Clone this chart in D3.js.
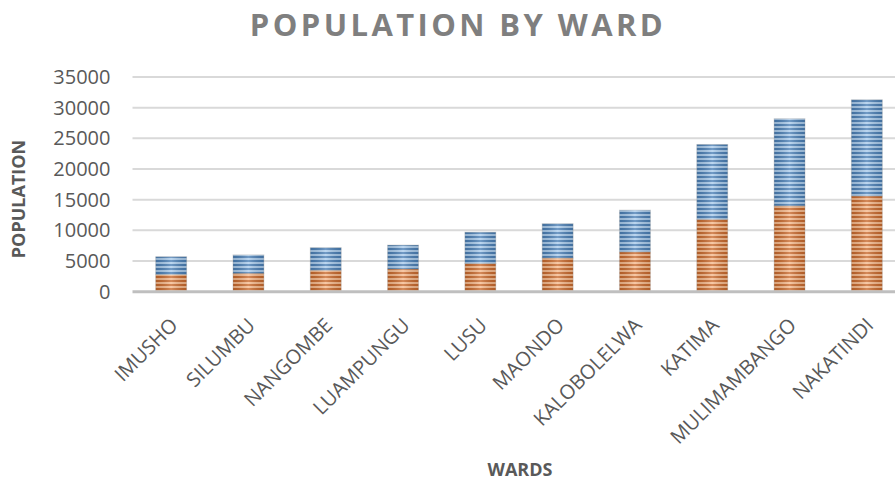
<!DOCTYPE html>
<html>
<head>
<meta charset="utf-8">
<script src="https://cdn.jsdelivr.net/npm/d3@7"></script>
<style>
  body { margin: 0; background: #fff; }
  text { font-family: "Open Sans", sans-serif; }
</style>
</head>
<body>
<div id="container"></div>
<script>
// Data
const wards = ["IMUSHO", "SILUMBU", "NANGOMBE", "LUAMPUNGU", "LUSU", "MAONDO", "KALOBOLELWA", "KATIMA", "MULIMAMBANGO", "NAKATINDI"];
const lowerSeries = [2800, 3000, 3500, 3700, 4600, 5500, 6500, 11800, 14000, 15600];
const upperSeries = [2900, 3000, 3700, 3900, 5100, 5600, 6800, 12200, 14200, 15700];
const yTicks = [0, 5000, 10000, 15000, 20000, 25000, 30000, 35000];

// Chart dimensions
const width = 895;
const height = 483;
const plotLeft = 132.5;
const plotRight = 905.5;
const plotTop = 77;
const plotBottom = 291.7;

const rows = wards.map((w, i) => ({ ward: w, lower: lowerSeries[i], upper: upperSeries[i] }));
const stack = d3.stack().keys(["lower", "upper"])(rows);

const x = d3.scaleBand()
  .domain(wards)
  .range([plotLeft, plotRight])
  .paddingInner(0.6)
  .paddingOuter(0.3);

const y = d3.scaleLinear()
  .domain([0, 35000])
  .range([plotBottom, plotTop]);

const svg = d3.create("svg").attr("width", width).attr("height", height);
document.getElementById("container").appendChild(svg.node());

// striped fills + a soft highlight across each bar
const defs = svg.append("defs");
const stripes = [
  { id: "stripe-lower", dark: "#c9692c", light: "#f6b98c" },
  { id: "stripe-upper", dark: "#4a7fb6", light: "#a9cbec" }
];
stripes.forEach(s => {
  const p = defs.append("pattern")
    .attr("id", s.id)
    .attr("patternUnits", "userSpaceOnUse")
    .attr("width", 8).attr("height", 4);
  p.append("rect").attr("width", 8).attr("height", 4).attr("fill", s.light);
  p.append("rect").attr("width", 8).attr("height", 2).attr("fill", s.dark);
});
const shine = defs.append("linearGradient").attr("id", "shine");
shine.append("stop").attr("offset", "0%").attr("stop-color", "#000").attr("stop-opacity", 0.12);
shine.append("stop").attr("offset", "50%").attr("stop-color", "#fff").attr("stop-opacity", 0.22);
shine.append("stop").attr("offset", "100%").attr("stop-color", "#000").attr("stop-opacity", 0.12);

// gridlines
svg.append("g")
  .selectAll("line")
  .data(yTicks.filter(d => d > 0))
  .join("line")
  .attr("x1", plotLeft).attr("x2", width)
  .attr("y1", d => y(d)).attr("y2", d => y(d))
  .attr("stroke", "#d9d9d9")
  .attr("stroke-width", 2);

// y-axis tick labels
svg.append("g")
  .attr("transform", `translate(${plotLeft - 22},0)`)
  .call(d3.axisLeft(y).tickValues(yTicks).tickFormat(d3.format("d")).tickSize(0).tickPadding(0))
  .call(g => g.select(".domain").remove())
  .call(g => g.selectAll("text")
    .attr("fill", "#595959")
    .attr("font-size", "20px")
    .attr("font-family", "Open Sans, sans-serif"));

// bars
const layers = svg.append("g")
  .selectAll("g")
  .data(stack)
  .join("g")
  .attr("fill", (d, i) => `url(#${stripes[i].id})`);

layers.selectAll("rect")
  .data(d => d)
  .join("rect")
  .attr("x", d => x(d.data.ward))
  .attr("y", d => y(d[1]))
  .attr("width", x.bandwidth())
  .attr("height", d => y(d[0]) - y(d[1]))
  .attr("stroke", "rgba(160,160,160,0.35)")
  .attr("stroke-width", 1);

// highlight overlay
svg.append("g")
  .selectAll("rect")
  .data(rows)
  .join("rect")
  .attr("x", d => x(d.ward))
  .attr("y", d => y(d.lower + d.upper))
  .attr("width", x.bandwidth())
  .attr("height", d => plotBottom - y(d.lower + d.upper))
  .attr("fill", "url(#shine)");

// x-axis baseline
svg.append("line")
  .attr("x1", plotLeft).attr("x2", width)
  .attr("y1", plotBottom).attr("y2", plotBottom)
  .attr("stroke", "#bfbfbf")
  .attr("stroke-width", 3);

// category labels, rotated
svg.append("g")
  .selectAll("text")
  .data(wards)
  .join("text")
  .attr("transform", d => `translate(${x(d) + x.bandwidth() / 2 - 2},${plotBottom + 25}) rotate(-45)`)
  .attr("text-anchor", "end")
  .attr("dy", "0.7em")
  .attr("fill", "#595959")
  .attr("font-size", "20px")
  .text(d => d);

// title
svg.append("text")
  .attr("x", 458)
  .attr("y", 36)
  .attr("text-anchor", "middle")
  .attr("fill", "#7f7f7f")
  .attr("font-size", "31px")
  .attr("font-weight", "bold")
  .attr("letter-spacing", "3.4px")
  .text("POPULATION BY WARD");

// axis titles
svg.append("text")
  .attr("transform", "translate(25,199) rotate(-90)")
  .attr("text-anchor", "middle")
  .attr("fill", "#595959")
  .attr("font-size", "18px")
  .attr("font-weight", "bold")
  .text("POPULATION");

svg.append("text")
  .attr("x", 520)
  .attr("y", 476)
  .attr("text-anchor", "middle")
  .attr("fill", "#595959")
  .attr("font-size", "18px")
  .attr("font-weight", "bold")
  .text("WARDS");
</script>
</body>
</html>
